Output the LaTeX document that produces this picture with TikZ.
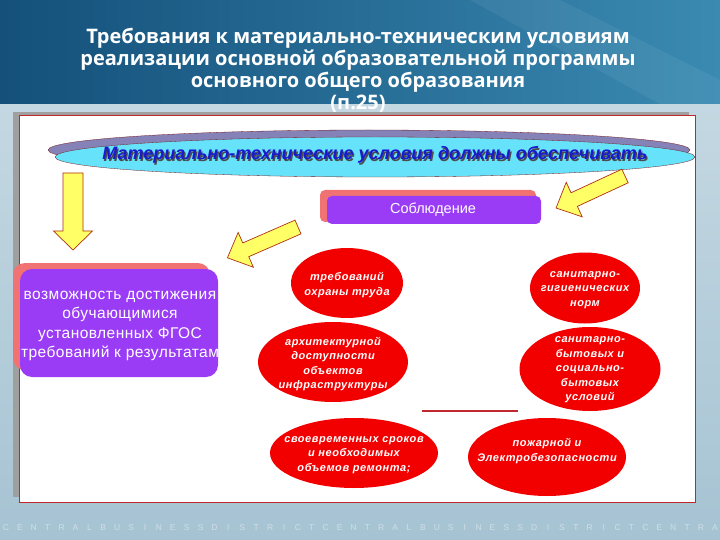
\documentclass[tikz,border=0pt]{standalone}
\usepackage{fontspec}
\setmainfont{Liberation Sans}
\newfontfamily\titlefont{Open Sans}
\newfontfamily\redfont[LetterSpace=5]{Liberation Sans}
\newfontfamily\boxfont[LetterSpace=3]{Liberation Sans}
\usetikzlibrary{shapes.geometric,calc}
\definecolor{topdark}{HTML}{14507A}
\definecolor{toplight}{HTML}{3A8AB2}
\definecolor{lowbg}{HTML}{A6C3D3}
\definecolor{lowbg2}{HTML}{C4D8E2}
\definecolor{panelred}{HTML}{C0282D}
\definecolor{cyanfill}{HTML}{66E2FA}
\definecolor{lavender}{HTML}{8482B6}
\definecolor{deepblue}{HTML}{1A1ACC}
\definecolor{purplebox}{HTML}{9A3CF5}
\definecolor{pinkbox}{HTML}{F07272}
\definecolor{redell}{HTML}{F20000}
\definecolor{yelfill}{HTML}{FFFF66}
\definecolor{yeledge}{HTML}{B03010}
\tikzset{
  yarr/.style={fill=yelfill, draw=yeledge, line width=0.7pt, line join=miter},
  redell/.style={ellipse, fill=redell, inner sep=0pt},
  redtxt/.style={inner sep=0pt, text=white, align=center,
    font=\redfont\bfseries\itshape\fontsize{11}{14.5}\selectfont},
  purplebx/.style={fill=purplebox, rounded corners=5pt},
  pinkbx/.style={fill=pinkbox, rounded corners=5pt},
}
\newcommand\yarrow[6]{%
  \begin{scope}[shift={#1}, rotate=#2]
    \draw[yarr] (0,-#4) -- ({#3-#6},-#4) -- ({#3-#6},-#5) -- (#3,0)
      -- ({#3-#6},#5) -- ({#3-#6},#4) -- (0,#4) -- cycle;
  \end{scope}}
\begin{document}
\begin{tikzpicture}[x=1pt,y=-1pt]
\useasboundingbox (0,0) rectangle (720,540);
% backgrounds
\shade[bottom color=lowbg, top color=lowbg2] (0,100) rectangle (720,540);
\shade[left color=topdark, right color=toplight] (0,0) rectangle (720,104);
\fill[white, opacity=0.06] (470,0) -- (560,0) -- (720,80) -- (720,104) -- (660,104) -- cycle;
% title
\node[text=white, align=center, font=\titlefont\bfseries\fontsize{20}{22}\selectfont] (title) at (358,70)
  {Требования к материально-техническим условиям\\
   реализации основной образовательной программы\\
   основного общего образования\\
   (п.25)};
% panel
\fill[gray!75] (13,112) rectangle (689,497);
\draw[fill=white, draw=panelred, line width=0.8pt] (19,115) rectangle (695,502);
% main ellipse
\node[ellipse, fill=lavender, draw=panelred!60!black, line width=0.3pt, minimum width=642pt, minimum height=40pt] (topshadow) at (369,150) {};
\node[ellipse, fill=cyanfill, draw=panelred!60!black, line width=0.3pt, minimum width=640pt, minimum height=40pt] (topell) at (375,157) {};
\node[text=black!70, font=\bfseries\itshape\fontsize{18}{20}\selectfont] (tshadow) at (376.3,156.3) {Материально-технические условия должны обеспечивать};
\node[text=deepblue, font=\bfseries\itshape\fontsize{18}{20}\selectfont] (ttext) at (375,155) {Материально-технические условия должны обеспечивать};
% yellow arrows
\yarrow{(73,173)}{-90}{77}{10}{19.5}{19}
\yarrow{(298,227)}{203.6}{77}{7.5}{19}{20}
\yarrow{(625,176)}{204.9}{76}{7.5}{19}{20}
% Соблюдение box
\fill[pinkbx] (320,190) rectangle (536,222);
\fill[purplebx] (327,196) rectangle (541,224);
\node[text=white, font=\fontsize{14.5}{16}\selectfont] (sobl) at (433,210) {Соблюдение};
% left box
\fill[pinkbx, rounded corners=12pt] (13,263) rectangle (210,370);
\fill[purplebx, rounded corners=12pt] (20,269) rectangle (218,377);
\node[text=white, align=center, font=\boxfont\fontsize{15.5}{19.5}\selectfont] (leftbox) at (120,326)
  {возможность достижения\\обучающимися\\установленных ФГОС\\требований к результатам};
% red ellipses
\node[redell, minimum width=112pt, minimum height=70pt] (e1) at (347,283) {};
\node[redell, minimum width=150pt, minimum height=80pt] (e2) at (333,362) {};
\node[redell, minimum width=168pt, minimum height=70pt] (e3) at (354,453) {};
\node[redell, minimum width=110pt, minimum height=71pt] (e4) at (585,288) {};
\node[redell, minimum width=141pt, minimum height=84pt] (e5) at (590,369) {};
\node[redell, minimum width=158pt, minimum height=78pt] (e6) at (547,457) {};
\node[redtxt] (t1) at (347,285) {требований\\охраны труда};
\node[redtxt] (t2) at (333,364) {архитектурной\\доступности\\объектов\\инфраструктуры};
\node[redtxt] (t3) at (354,455) {своевременных сроков\\и необходимых\\объемов ремонта;};
\node[redtxt] (t4) at (585,290) {санитарно-\\гигиенических\\норм};
\node[redtxt] (t5) at (590,370) {санитарно-\\бытовых и\\социально-\\бытовых\\условий};
\node[redtxt] (t6) at (547,451) {пожарной и\\Электробезопасности};
% red line
\coordinate (la) at (422,411);
\coordinate (lb) at (518,411);
\draw[panelred, line width=1.6pt] (la) -- (lb);
% bottom letters
\foreach \ch [count=\i from 0] in {C,E,N,T,R,A,L,B,U,S,I,N,E,S,S,D,I,S,T,R,I,C,T,C,E,N,T,R,A,L,B,U,S,I,N,E,S,S,D,I,S,T,R,I,C,T,C,E,N,T,R,A}
  \node[text=white, opacity=0.45, font=\fontsize{8.5}{8.5}\selectfont, inner sep=0pt] (bl\i) at ({6+13.9*\i},528) {\ch};
\end{tikzpicture}
\end{document}
